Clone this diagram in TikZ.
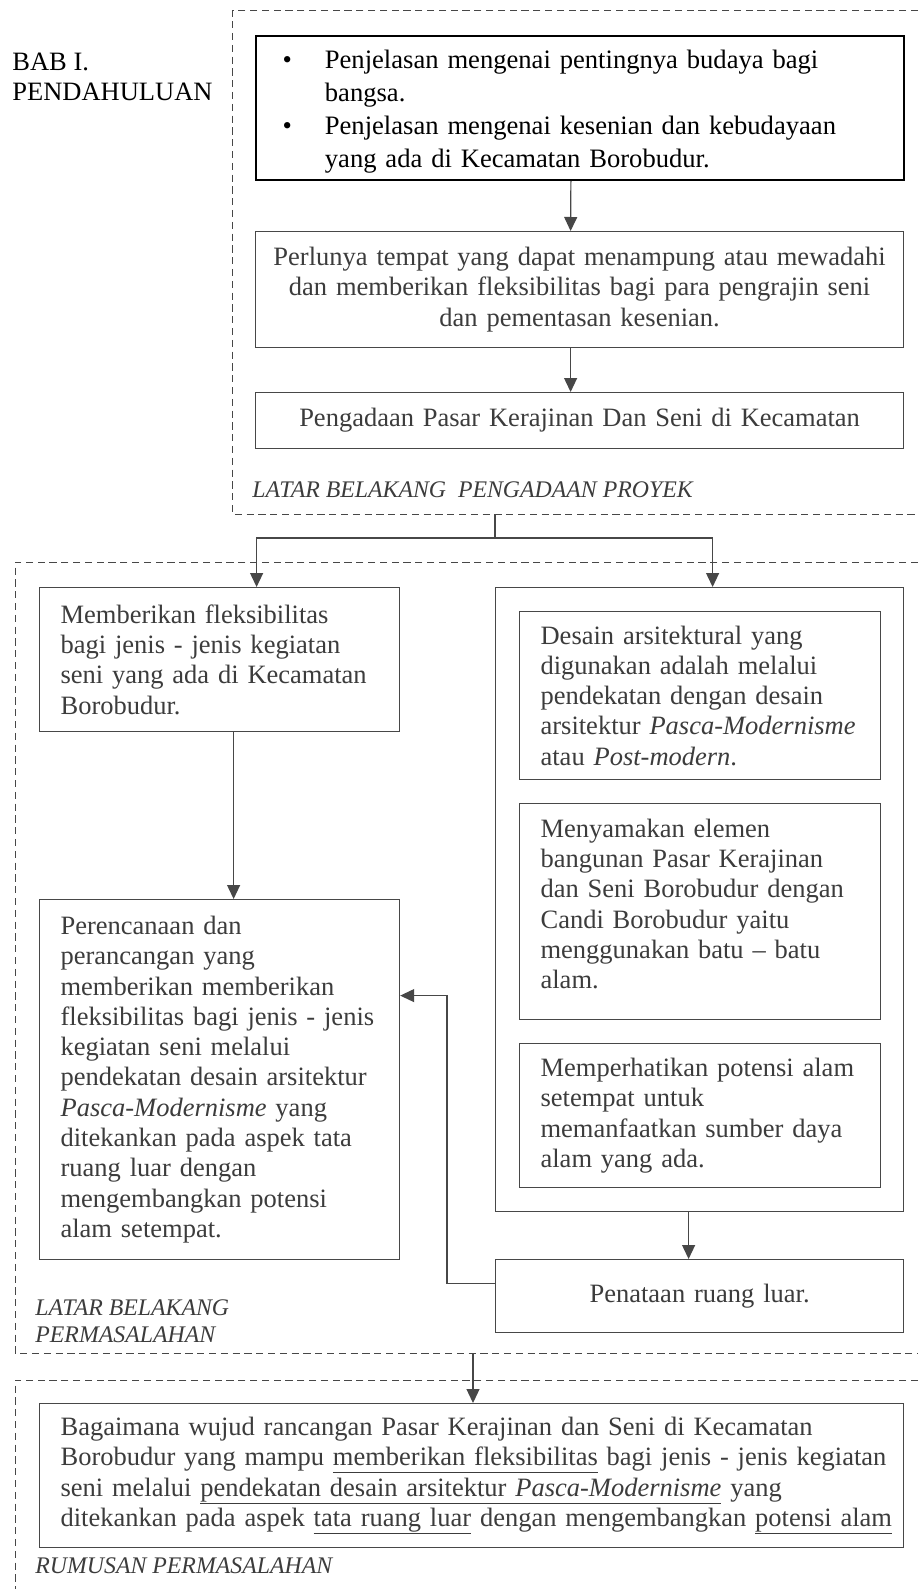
\documentclass[tikz,border=0pt]{standalone}
\usepackage{fontspec}
\setmainfont{Liberation Serif}
\usetikzlibrary{arrows.meta, positioning, calc}
\definecolor{inkgray}{HTML}{3C3C3C}
\definecolor{rulegray}{HTML}{474747}
\newcommand\bodysize{\fontsize{13.25pt}{15.15pt}\selectfont}
\newcommand\tagsize{\fontsize{11.9pt}{13.5pt}\selectfont}
\newcommand\undertext[1]{\leavevmode\setbox0\hbox{#1}\rlap{\rule[-3.8pt]{\wd0}{0.55pt}}\box0\relax}
\newcommand\bulletmark{\leavevmode\llap{\textbullet\hspace{16.5pt}}}

\begin{document}
\begin{tikzpicture}[x=0.5pt, y=-0.5pt,
    box/.style={draw=rulegray, line width=0.6pt, anchor=north west, inner sep=0pt, align=left,
        text=inkgray, font=\bodysize, execute at begin node={\leftskip=10.5pt}},
    cbox/.style={draw=rulegray, line width=0.6pt, anchor=north west, inner sep=0pt, align=center,
        text=inkgray, font=\bodysize},
    tag/.style={anchor=north west, inner sep=0pt, align=left, text=inkgray, font=\itshape\tagsize},
    frame/.style={draw=rulegray, line width=0.5pt, dash pattern=on 3.6pt off 2.3pt},
    conn/.style={draw=rulegray, line width=0.6pt},
    arrow/.style={conn, -{Triangle[length=7pt, width=6.5pt]}}]
    \fill[white] (0,0) rectangle (918,1589);
    \useasboundingbox (0,0) rectangle (918,1589);

    % Dashed groups
    \draw[frame] (918,11) -- (232,11) -- (232,514) -- (918,514);
    \draw[frame] (918,562) -- (15,562) -- (15,1353) -- (918,1353);
    \draw[frame] (918,1380) -- (15,1380) -- (15,1589);

    % Latar belakang pengadaan proyek
    \node[anchor=north west, inner sep=0pt, align=left, font=\fontsize{13.25pt}{15pt}\selectfont] (bab) at (12,52.5) {BAB I.\\PENDAHULUAN};
    \node[box, draw=black, line width=0.9pt, text=black, text width=324pt, minimum height=72pt,
        font=\fontsize{13.3pt}{16.5pt}\selectfont, text height=13.25pt,
        execute at begin node={\leftskip=34.5pt}] (intro) at (255,35)
        {\bulletmark Penjelasan mengenai pentingnya budaya bagi\\ bangsa.\\
         \bulletmark Penjelasan mengenai kesenian dan kebudayaan\\ yang ada di Kecamatan Borobudur.};
    \node[cbox, text width=324pt, minimum height=58pt] (need) at (255,231)
        {Perlunya tempat yang dapat menampung atau mewadahi\\ dan memberikan fleksibilitas bagi para pengrajin seni\\ dan pementasan kesenian.};
    \node[cbox, text width=324pt, minimum height=28pt] (market) at (255,392)
        {Pengadaan Pasar Kerajinan Dan Seni di Kecamatan};
    \node[tag] (tagproyek) at (252,481) {LATAR BELAKANG~ PENGADAAN PROYEK};

    \draw[arrow] ([xshift=-4.5pt]intro.south) -- ([xshift=-4.5pt]need.north);
    \draw[arrow] ([xshift=-4.5pt]need.south) -- ([xshift=-4.5pt]market.north);

    % Latar belakang permasalahan
    \node[box, text width=180pt, minimum height=72pt] (flex) at (39,587)
        {Memberikan fleksibilitas\\ bagi jenis - jenis kegiatan\\ seni yang ada di Kecamatan\\ Borobudur.};
    \node[box, text width=180pt, minimum height=180pt] (plan) at (39,899)
        {Perencanaan dan\\ perancangan yang\\ memberikan memberikan\\ fleksibilitas bagi jenis - jenis\\
         kegiatan seni melalui\\ pendekatan desain arsitektur\\ \textit{Pasca-Modernisme} yang\\
         ditekankan pada aspek tata\\ ruang luar dengan\\ mengembangkan potensi\\ alam setempat.};
    \node[draw=rulegray, line width=0.6pt, anchor=north west, inner sep=0pt,
        minimum width=204pt, minimum height=312pt] (approach) at (495,587) {};
    \node[box, text width=180.5pt, minimum height=84pt] (design) at (519,611)
        {Desain arsitektural yang\\ digunakan adalah melalui\\ pendekatan dengan desain\\
         arsitektur \textit{Pasca-Modernisme}\\ atau \textit{Post-modern}.};
    \node[box, text width=180.5pt, minimum height=108pt, text depth=83.5pt] (stone) at (519,803)
        {Menyamakan elemen\\ bangunan Pasar Kerajinan\\ dan Seni Borobudur dengan\\
         Candi Borobudur yaitu\\ menggunakan batu -- batu\\ alam.};
    \node[box, text width=180.5pt, minimum height=72pt] (nature) at (519,1043)
        {Memperhatikan potensi alam\\ setempat untuk\\ memanfaatkan sumber daya\\ alam yang ada.};
    \node[cbox, text width=204pt, minimum height=36.5pt] (outdoor) at (495,1259) {Penataan ruang luar.};
    \node[tag] (tagmasalah) at (35,1299) {LATAR BELAKANG\\PERMASALAHAN};

    \coordinate (g1out) at (495,514);
    \coordinate (fork) at (495,538);
    \draw[conn] (g1out) -- (fork);
    \draw[arrow] (fork) -| ([xshift=18.5pt]flex.north);
    \draw[arrow] (fork) -| ([xshift=6.5pt]approach.north);
    \draw[arrow] ([xshift=7pt]flex.south) -- ([xshift=7pt]plan.north);
    \draw[arrow] ([xshift=-5.5pt]approach.south) -- ([xshift=-5.5pt]outdoor.north);
    \draw[arrow] ([yshift=6.25pt]outdoor.west) -- ++(-24pt,0) |- ([yshift=42pt]plan.east);

    % Rumusan permasalahan
    \node[box, text width=432pt, minimum height=72pt] (question) at (39,1403)
        {Bagaimana wujud rancangan Pasar Kerajinan dan Seni di Kecamatan\\
         Borobudur yang mampu \undertext{memberikan fleksibilitas} bagi jenis - jenis kegiatan\\
         seni melalui \undertext{pendekatan desain arsitektur \textit{Pasca-Modernisme}} yang\\
         ditekankan pada aspek \undertext{tata ruang luar} dengan mengembangkan \undertext{potensi alam}};
    \node[tag] (tagrumusan) at (35,1557) {RUMUSAN PERMASALAHAN};

    \coordinate (g2out) at (473,1353);
    \draw[arrow] (g2out) -- (g2out |- question.north);
\end{tikzpicture}
\end{document}
